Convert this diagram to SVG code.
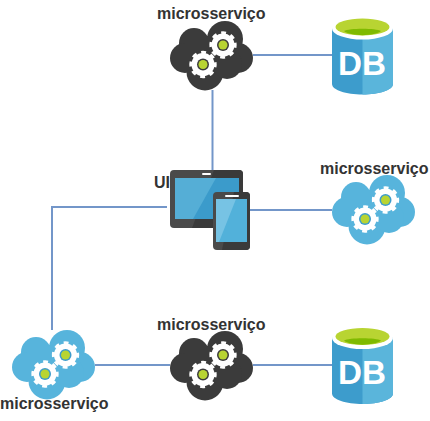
<svg xmlns="http://www.w3.org/2000/svg" width="430" height="421" viewBox="0 0 430 421">
<style>
.lbl{font-family:"Liberation Sans",Arial,sans-serif;font-weight:700;font-size:16px;fill:#333}
.con{fill:none;stroke:#7396c9;stroke-width:2}
.dbt{font-family:"Liberation Sans",Arial,sans-serif;font-weight:700;font-size:34px;fill:#fff}
.teeth{fill:none;stroke:#fff;stroke-width:3.400;stroke-dasharray:4.7 4.72}
</style>
<defs>
<g id="cloudshape">
<circle cx="55" cy="18" r="18"/><circle cx="24" cy="22" r="15"/><circle cx="15" cy="37" r="15"/><circle cx="35" cy="51" r="18.500"/><circle cx="68" cy="37" r="15"/><circle cx="57" cy="43" r="15"/><rect x="15" y="15" width="50" height="36"/>
</g>
<g id="gear">
<circle r="11.500" fill="#fff"/><circle r="12" class="teeth" transform="rotate(-10)"/>
</g>
<g id="db">
<path d="M0 10V66C0 72 14 76.500 30.500 76.500S61 72 61 66V10Z" fill="#3d9ccc"/>
<path d="M30.500 10H61V66C61 72 47 76.500 30.500 76.500Z" fill="#5ab5db"/>
<ellipse cx="30.500" cy="10.500" rx="30.500" ry="11" fill="#fff"/>
<ellipse cx="30.500" cy="9" rx="27" ry="8.500" fill="#b8d432"/>
<path d="M12 13C17 10 44 10 49 13C43 18.500 18 18.500 12 13Z" fill="#7fba00"/>
<text class="dbt" x="6" y="56.500" textLength="48" lengthAdjust="spacingAndGlyphs">DB</text>
</g>
</defs>
<g id="connectors">
<path class="con" d="M253 55H332"/>
<path class="con" d="M212.500 90V170"/>
<path class="con" d="M250 210H332"/>
<path class="con" d="M167 207H52V330"/>
<path class="con" d="M95 365H170"/>
<path class="con" d="M253 365H332"/>
</g>
<g id="ms-top">
<text class="lbl" x="157" y="19">microsserviço</text>
<g transform="translate(170 21)">
<use href="#cloudshape" fill="#3b3b3b"/>
<use href="#gear" x="53" y="24"/><circle cx="53" cy="24" r="6" fill="#3b3b3b"/><circle cx="53" cy="24" r="4.500" fill="#b8d432"/>
<use href="#gear" x="33" y="43.500"/><circle cx="33" cy="43.500" r="6" fill="#3b3b3b"/><circle cx="33" cy="43.500" r="4.500" fill="#b8d432"/>
</g>
</g>
<g id="db-top"><use href="#db" x="332" y="18"/></g>
<g id="ui">
<text class="lbl" x="154" y="188">UI</text>
<rect x="170" y="170" width="73" height="58" rx="4" fill="#4a4a4a"/>
<path d="M214 170H239Q243 170 243 174V224Q243 228 239 228H192Z" fill="#3a3a3a"/>
<rect x="175" y="178" width="64" height="41" fill="#55aed6"/>
<path d="M216 178H239V219H193Z" fill="#3b9bcb"/>
<rect x="202" y="173" width="9" height="2" rx="1" fill="#fff"/>
<rect x="213" y="192" width="37" height="58" rx="4" fill="#4a4a4a"/>
<path d="M234 192H246Q250 192 250 196V246Q250 250 246 250H222Z" fill="#3a3a3a"/>
<rect x="216" y="199" width="31" height="43" fill="#77c3e4"/>
<path d="M236 199H247V242H219Z" fill="#52b1da"/>
<rect x="225" y="195" width="14" height="2" rx="1" fill="#fff"/>
</g>
<g id="ms-right">
<text class="lbl" x="320" y="174">microsserviço</text>
<g transform="translate(332 175)">
<use href="#cloudshape" fill="#57b4dc"/>
<use href="#gear" x="53.500" y="25"/><circle cx="53.500" cy="25" r="6" fill="#3d9ccc"/><circle cx="53.500" cy="25" r="4.500" fill="#b8d432"/>
<use href="#gear" x="33" y="44"/><circle cx="33" cy="44" r="6" fill="#3d9ccc"/><circle cx="33" cy="44" r="4.500" fill="#b8d432"/>
</g>
</g>
<g id="ms-left">
<g transform="translate(12 330)">
<use href="#cloudshape" fill="#57b4dc"/>
<use href="#gear" x="53.500" y="25"/><circle cx="53.500" cy="25" r="6" fill="#3d9ccc"/><circle cx="53.500" cy="25" r="4.500" fill="#b8d432"/>
<use href="#gear" x="33" y="44"/><circle cx="33" cy="44" r="6" fill="#3d9ccc"/><circle cx="33" cy="44" r="4.500" fill="#b8d432"/>
</g>
<text class="lbl" x="0" y="409">microsserviço</text>
</g>
<g id="ms-bottom">
<text class="lbl" x="157" y="330">microsserviço</text>
<g transform="translate(170 331)">
<use href="#cloudshape" fill="#3b3b3b"/>
<use href="#gear" x="53" y="24"/><circle cx="53" cy="24" r="6" fill="#3b3b3b"/><circle cx="53" cy="24" r="4.500" fill="#b8d432"/>
<use href="#gear" x="33" y="43.500"/><circle cx="33" cy="43.500" r="6" fill="#3b3b3b"/><circle cx="33" cy="43.500" r="4.500" fill="#b8d432"/>
</g>
</g>
<g id="db-bottom"><use href="#db" x="332" y="327.500"/></g>
</svg>
